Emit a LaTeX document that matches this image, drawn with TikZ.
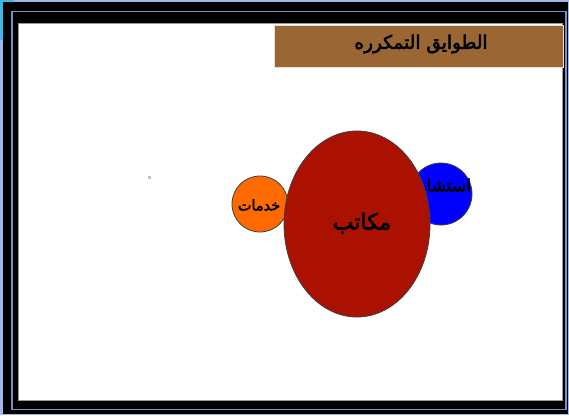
\documentclass[tikz,border=0pt]{standalone}
\usepackage{fontspec}
\usetikzlibrary{shapes.geometric}
\newfontfamily\arabicfont[Script=Arabic,FakeBold=3]{DejaVu Sans}
\TeXXeTstate=1
\definecolor{bgblue}{HTML}{A2B6EA}
\definecolor{bgcyan}{HTML}{40B8E6}
\definecolor{frameline}{HTML}{7C8EC8}
\definecolor{titlebrown}{HTML}{9A6634}
\definecolor{officered}{HTML}{AA1100}
\definecolor{serviceorange}{HTML}{FF6A00}
\definecolor{consultblue}{HTML}{0000FF}
\tikzset{
  blob/.style={draw=black!75, line width=0.8pt},
  label/.style={font=\arabicfont, text=black, inner sep=0pt}
}
\begin{document}
\begin{tikzpicture}[x=1pt,y=-1pt]
\useasboundingbox (0,0) rectangle (569,415);
% backdrop
\fill[bgblue] (0,0) rectangle (569,415);
\fill[bgcyan] (0,0) rectangle (14,40);
% black frame
\fill[black] (3,2) rectangle (568,414);
\draw[frameline, line width=1.2pt] (12,11.5) rectangle (566,409.5);
\fill[white] (18,23) rectangle (562,400);
\draw[black!40, line width=0.6pt] (18,23) rectangle (562,400);
% title bar
\node[fill=titlebrown, draw=white!80!titlebrown, line width=0.5pt, minimum width=289pt, minimum height=42pt, inner sep=0pt, anchor=north west] (title) at (274,25) {};
\node[label, font=\arabicfont\fontsize{18.5}{21}\selectfont] (titletext) at (421,44) {\beginR الطوايق التمكرره\endR};
% tiny speck
\fill[black!25] (148,176) rectangle (150.5,178.5);
% circles
\node[blob, circle, fill=serviceorange, minimum size=56pt, inner sep=0pt] (services) at (260,204) {};
\node[blob, circle, fill=consultblue, minimum size=62pt, inner sep=0pt] (consult) at (441,194) {};
\node[label, font=\arabicfont\fontsize{17}{20}\selectfont] (consulttext) at (438,187) {\beginR استشاري\endR};
\node[blob, ellipse, fill=officered, minimum width=146pt, minimum height=186pt, inner sep=0pt] (offices) at (357,224) {};
\node[label, font=\arabicfont\fontsize{14.5}{17}\selectfont] (servicestext) at (259,205) {\beginR خدمات\endR};
\node[label, font=\arabicfont\fontsize{22}{26}\selectfont] (officestext) at (362,223) {\beginR مكاتب\endR};
\end{tikzpicture}
\end{document}
